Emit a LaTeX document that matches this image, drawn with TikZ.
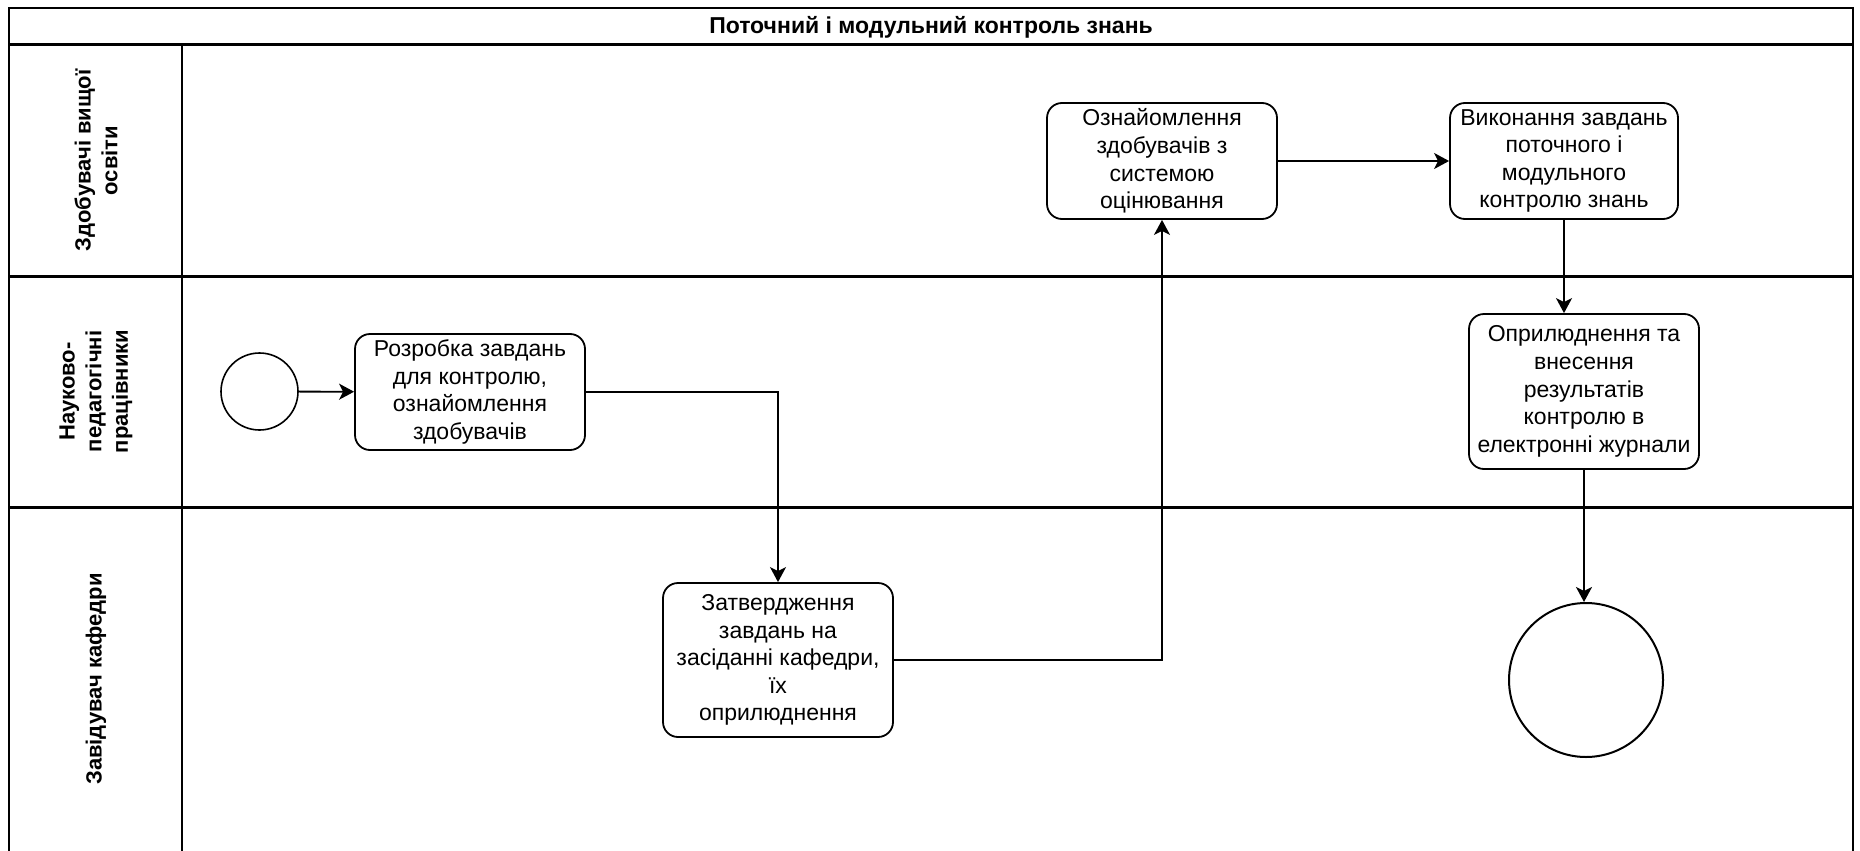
\documentclass[tikz,border=0pt]{standalone}
\usepackage{fontspec}
\setmainfont{Liberation Sans}
\usetikzlibrary{arrows.meta}
\tikzset{
  lane/.style={line width=3pt},
  frame/.style={line width=2pt},
  divider/.style={line width=1.6pt},
  task/.style={draw, line width=1.8pt, rounded corners=15pt, align=center,
    inner sep=0pt, font=\fontsize{23}{27.6}\selectfont},
  event/.style={draw, circle, line width=1.6pt, inner sep=0pt},
  header/.style={rotate=90, align=center, font=\bfseries\fontsize{22}{26.7}\selectfont},
  flow/.style={line width=1.8pt, -{Stealth[length=15pt, width=16pt, inset=4pt]}}
}
\begin{document}
\begin{tikzpicture}[x=1pt, y=-1pt]
\useasboundingbox (0,0) rectangle (1860,851);

% pool frame, title band and lanes
\draw[frame] (9,851) -- (9,8) -- (1853,8) -- (1853,851);
\draw[lane] (9,45) -- (1853,45);
\draw[lane] (9,276) -- (1853,276);
\draw[lane] (9,507) -- (1853,507);
\draw[divider] (182,45) -- (182,851);

\node[font=\bfseries\fontsize{23}{27.6}\selectfont] (title) at (931,27) {Поточний і модульний контроль знань};

\node[header] (h1) at (96,160.5) {Здобувачі вищої\\освіти};
\node[header] (h2) at (96,391.5) {Науково-\\педагогічні\\працівники};
\node[header] (h3) at (96,679) {Завідувач кафедри};

% events and tasks
\node[event, minimum size=77pt] (start) at (259.5,391.5) {};
\node[task, minimum width=230pt, minimum height=116pt] (dev) at (470,392)
  {Розробка завдань\\для контролю,\\ознайомлення\\здобувачів};
\node[task, minimum width=230pt, minimum height=154pt] (appr) at (778,660)
  {Затвердження\\завдань на\\засіданні кафедри,\\їх\\оприлюднення};
\node[task, minimum width=230pt, minimum height=116pt] (intro) at (1162,161)
  {Ознайомлення\\здобувачів з\\системою\\оцінювання};
\node[task, minimum width=228pt, minimum height=116pt] (exec) at (1564,161)
  {Виконання завдань\\поточного і\\модульного\\контролю знань};
\node[task, minimum width=230pt, minimum height=155pt] (pub) at (1584,391.5)
  {Оприлюднення та\\внесення\\результатів\\контролю в\\електронні журнали};
\node[event, line width=2pt, minimum size=154pt] (end) at (1586,680) {};

% sequence flows
\draw[flow] (start) -- (dev);
\draw[flow] (dev.east) -| (appr.north);
\draw[flow] (appr.east) -| (intro.south);
\draw[flow] (intro.east) -- (exec.west);
\draw[flow] (exec.south) -- (exec.south |- pub.north);
\draw[flow] (pub.south) -- (pub.south |- end.north);
\end{tikzpicture}
\end{document}
